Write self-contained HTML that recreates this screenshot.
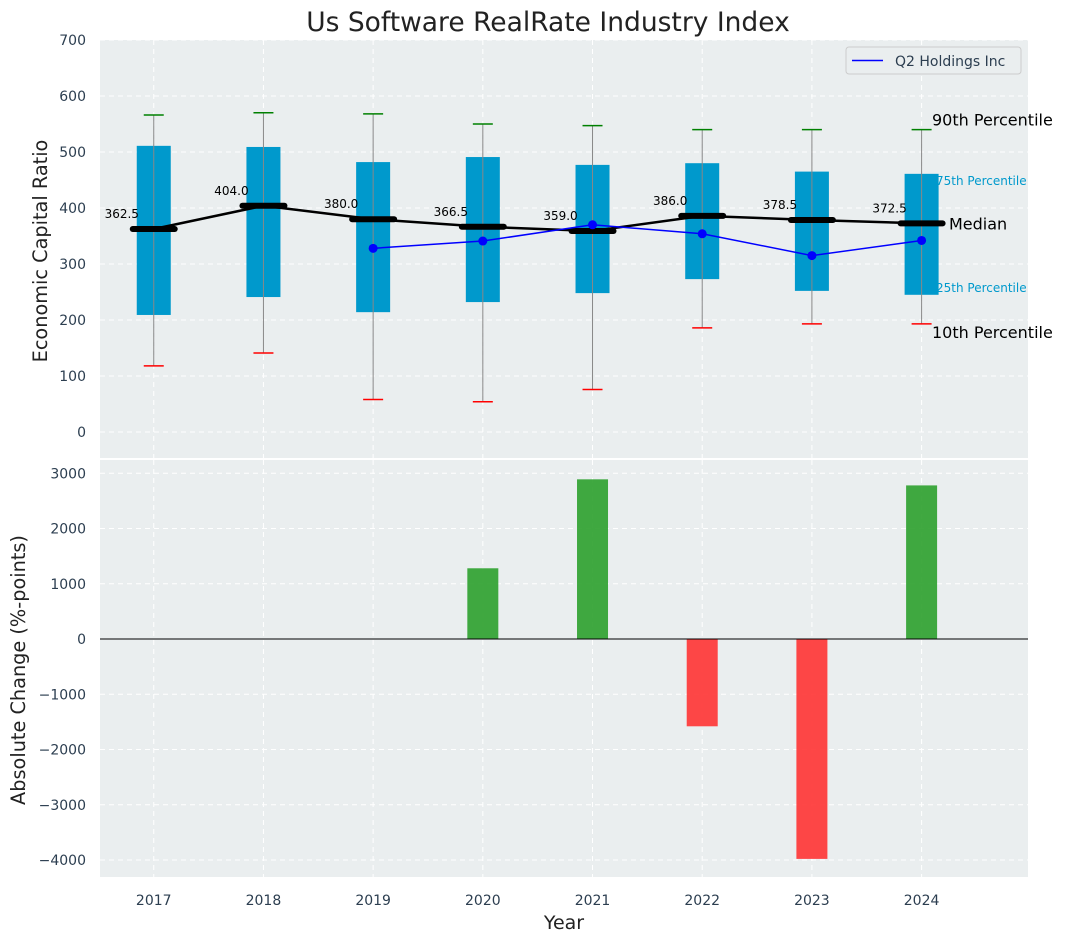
<!DOCTYPE html>
<html><head><meta charset="utf-8"><style>
body{margin:0;background:#fff;}
svg{display:block;font-family:"DejaVu Sans","Liberation Sans",sans-serif;}
</style></head><body>
<svg id="chart" width="1067" height="942"></svg>
<script>
const years=[2017,2018,2019,2020,2021,2022,2023,2024];
const p10=[118,141,58,54,76,186,193,193];
const p25=[209,241,214,232,248,273,252,245];
const medians=[362.5,404.0,380.0,366.5,359.0,386.0,378.5,372.5];
const p75=[511,509,482,491,477,480,465,461];
const p90=[566,570,568,550,547,540,540,540];
const q2Years=[2019,2020,2021,2022,2023,2024];
const q2Values=[328,341,370,354,315,342];
const changeYears=[2020,2021,2022,2023,2024];
const changeValues=[1280,2890,-1580,-3980,2780];
const topTicks=[0,100,200,300,400,500,600,700];
const botTicks=[-4000,-3000,-2000,-1000,0,1000,2000,3000];

const NS="http://www.w3.org/2000/svg";
const svg=document.getElementById('chart');
function el(tag,attrs,parent){const e=document.createElementNS(NS,tag);for(const k in attrs)e.setAttribute(k,attrs[k]);(parent||svg).appendChild(e);return e;}
const L=100,R=1028;
const x=y=>L+(y-2016.51)/(2024.97-2016.51)*(R-L);
const T0=40,T1=458; const yt=v=>432-(v)*(392/700);
const B0=460,B1=877; const yb=v=>639-v*(221/4000);

let e=el('rect',{x:L,y:T0,width:R-L,height:T1-T0,fill:'#eaeeef'});


e=el('rect',{x:L,y:B0,width:R-L,height:B1-B0,fill:'#eaeeef'});



years.forEach(yr=>{
  el('line',{x1:x(yr),x2:x(yr),y1:T0,y2:T1,stroke:'#fff','stroke-dasharray':'5,4','stroke-width':1});
  el('line',{x1:x(yr),x2:x(yr),y1:B0,y2:B1,stroke:'#fff','stroke-dasharray':'5,4','stroke-width':1});
});
topTicks.forEach(v=>{
  el('line',{x1:L,x2:R,y1:yt(v),y2:yt(v),stroke:'#fff','stroke-dasharray':'5,4'});
  const t=el('text',{x:L-14,y:yt(v)+5,'text-anchor':'end','font-size':14,fill:'#2c3e50'});t.textContent=v;
  
  
});
botTicks.forEach(v=>{
  el('line',{x1:L,x2:R,y1:yb(v),y2:yb(v),stroke:'#fff','stroke-dasharray':'5,4'});
  const t=el('text',{x:L-14,y:yb(v)+5,'text-anchor':'end','font-size':14,fill:'#2c3e50'});t.textContent=v<0?'\u2212'+Math.abs(v):v;
  
  
});
years.forEach(yr=>{
  const t=el('text',{x:x(yr),y:905,'text-anchor':'middle','font-size':14,fill:'#2c3e50'});t.textContent=yr;
  
  
});

years.forEach((yr,i)=>{
  const cx=x(yr);
  const b=el('rect',{x:cx-17,y:yt(p75[i]),width:34,height:yt(p25[i])-yt(p75[i]),fill:'#0099cc'});
  
  
  el('line',{x1:cx,x2:cx,y1:yt(p90[i]),y2:yt(p10[i]),stroke:'#888','stroke-width':1});
  el('line',{x1:cx-10,x2:cx+10,y1:yt(p90[i]),y2:yt(p90[i]),stroke:'green','stroke-width':1.5});
  el('line',{x1:cx-10,x2:cx+10,y1:yt(p10[i]),y2:yt(p10[i]),stroke:'red','stroke-width':1.5});
});
let pts=years.map((yr,i)=>x(yr)+','+yt(medians[i])).join(' ');
e=el('polyline',{points:pts,fill:'none',stroke:'#000','stroke-width':2.5});


years.forEach((yr,i)=>{
  const m=el('line',{x1:x(yr)-21,x2:x(yr)+21,y1:yt(medians[i]),y2:yt(medians[i]),stroke:'#000','stroke-width':6,'stroke-linecap':'round'});
  
  
  const t=el('text',{x:x(yr)-32,y:yt(medians[i])-11,'text-anchor':'middle','font-size':12,fill:'#000'});t.textContent=medians[i].toFixed(1);
  
  
});
pts=q2Years.map((yr,i)=>x(yr)+','+yt(q2Values[i])).join(' ');
e=el('polyline',{points:pts,fill:'none',stroke:'blue','stroke-width':1.5});


q2Years.forEach((yr,i)=>{
  const c=el('circle',{cx:x(yr),cy:yt(q2Values[i]),r:4.5,fill:'blue'});
  
  
});
const li=7;
[['90th Percentile',yt(p90[li])-4,16,'#000',932],['75th Percentile',yt(p75[li])+11,12,'#0099cc',936],['Median',yt(medians[li])+6,16,'#000',949],['25th Percentile',yt(p25[li])-3,12,'#0099cc',936],['10th Percentile',yt(p10[li])+14,16,'#000',932]].forEach(a=>{
  const t=el('text',{x:a[4],y:a[1],'font-size':a[2],fill:a[3]});t.textContent=a[0];
  
  
});
const lg=el('g',{});


el('rect',{x:846,y:47,width:175,height:27,rx:3,fill:'#eaeeef',stroke:'#ccc'},lg);
el('line',{x1:852,x2:883,y1:60.5,y2:60.5,stroke:'blue','stroke-width':1.5},lg);
let t=el('text',{x:895,y:66,'font-size':14,fill:'#2c3e50'},lg);t.textContent='Q2 Holdings Inc';

changeYears.forEach((yr,i)=>{
  const v=changeValues[i];
  const b=el('rect',{x:x(yr)-15.5,y:Math.min(yb(v),yb(0)),width:31,height:Math.abs(yb(v)-yb(0)),fill:v>=0?'#2ca02c':'#ff3333','fill-opacity':0.9});
  
  
});
el('line',{x1:L,x2:R,y1:yb(0),y2:yb(0),stroke:'#000','stroke-width':1});

t=el('text',{x:548,y:31,'text-anchor':'middle','font-size':26.5,fill:'#222'});t.textContent='Us Software RealRate Industry Index';


t=el('text',{x:0,y:0,'text-anchor':'middle','font-size':19.3,fill:'#222',transform:'translate(47,251) rotate(-90)'});t.textContent='Economic Capital Ratio';


t=el('text',{x:0,y:0,'text-anchor':'middle','font-size':19.3,fill:'#222',transform:'translate(25,670) rotate(-90)'});t.textContent='Absolute Change (%-points)';


t=el('text',{x:564,y:929,'text-anchor':'middle','font-size':19,fill:'#222'});t.textContent='Year';


</script>
</body></html>
